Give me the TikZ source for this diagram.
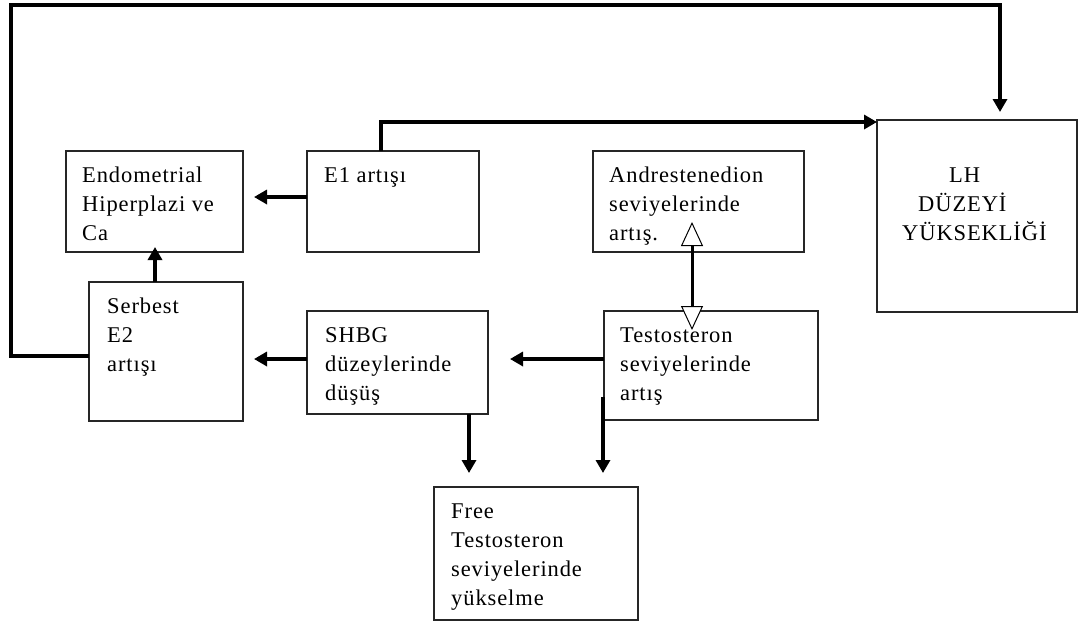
\documentclass[tikz,border=0pt]{standalone}
\usepackage{fontspec}
\setmainfont{Liberation Serif}[LetterSpace=4]
\usetikzlibrary{arrows.meta,calc}
\begin{document}
\begin{tikzpicture}[x=1pt,y=-1pt,
  box/.style={draw=black!85,line width=1.3pt,anchor=north west,inner sep=0pt,outer sep=0pt},
  lbl/.style={anchor=north west,inner sep=0pt,align=left,font=\fontsize{22.5}{29}\selectfont},
  conn/.style={line width=3.5pt,-{Triangle[length=13pt,width=14pt]}},
  dbl/.style={line width=3pt,{Triangle[length=24pt,width=22pt,fill=white,line width=1pt]}-{Triangle[length=24pt,width=22pt,fill=white,line width=1pt]}}
]
\useasboundingbox (0,0) rectangle (1079,625);
% boxes
\node[box,minimum width=177pt,minimum height=101pt] (endo) at (66,151) {};
\node[box,minimum width=172pt,minimum height=101pt] (e1) at (307,151) {};
\node[box,minimum width=211pt,minimum height=101pt] (andr) at (593,151) {};
\node[box,minimum width=200pt,minimum height=192pt] (lh) at (877,120) {};
\node[box,minimum width=154pt,minimum height=139pt] (serb) at (89,282) {};
\node[box,minimum width=181pt,minimum height=103pt] (shbg) at (307,311) {};
\node[box,minimum width=214pt,minimum height=109pt] (testo) at (604,311) {};
\node[box,minimum width=204pt,minimum height=133pt] (free) at (434,487) {};
% texts
\node[lbl] (tendo) at (82,160) {\rule{0pt}{22pt}Endometrial\\Hiperplazi ve\\Ca};
\node[lbl] (te1) at (324,160) {\rule{0pt}{22pt}E1 artışı};
\node[lbl] (tandr) at (609,160) {\rule{0pt}{22pt}Andrestenedion\\seviyelerinde\\artış.};
\node[lbl] (tlh) at (902,160) {\rule{0pt}{22pt}\hspace*{47pt}LH\\\hspace*{16pt}DÜZEYİ\\YÜKSEKLİĞİ};
\node[lbl] (tserb) at (107,291) {\rule{0pt}{22pt}Serbest\\E2\\artışı};
\node[lbl] (tshbg) at (325,320) {\rule{0pt}{22pt}SHBG\\düzeylerinde\\düşüş};
\node[lbl] (ttesto) at (620,320) {\rule{0pt}{22pt}Testosteron\\seviyelerinde\\artış};
\node[lbl] (tfree) at (451,496) {\rule{0pt}{22pt}Free\\Testosteron\\seviyelerinde\\yükselme};
% helper coordinates
\coordinate (cA) at (11,356);
\coordinate (cB) at (11,5);
\coordinate (cC) at (1000,5);
\coordinate (cD) at (381,122);
\coordinate (y197) at (0,197);
\coordinate (y359) at (0,359);
\coordinate (x155) at (155,0);
\coordinate (x469) at (469,0);
\coordinate (cT) at (603,397);
\coordinate (cTe) at (603,473);
\coordinate (dTop) at (692,222);
\coordinate (dBot) at (692,330);
% connectors
\draw[conn,shorten >=8pt] (serb.west |- cA) -- (cA) -- (cB) -- (cC) -- (cC |- lh.north);
\draw[conn] (e1.north -| cD) -- (cD) -- (cD -| lh.west);
\draw[conn,shorten >=11pt] (e1.west |- y197) -- (endo.east |- y197);
\draw[conn,shorten >=-5pt] (serb.north -| x155) -- (endo.south -| x155);
\draw[conn,shorten >=11pt] (shbg.west |- y359) -- (serb.east |- y359);
\draw[conn,shorten >=22pt] (testo.west |- y359) -- (shbg.east |- y359);
\draw[conn,shorten >=14pt] (shbg.south -| x469) -- (free.north -| x469);
\draw[conn] (cT) -- (cTe);
\draw[dbl] (dTop) -- (dBot);
\end{tikzpicture}
\end{document}
